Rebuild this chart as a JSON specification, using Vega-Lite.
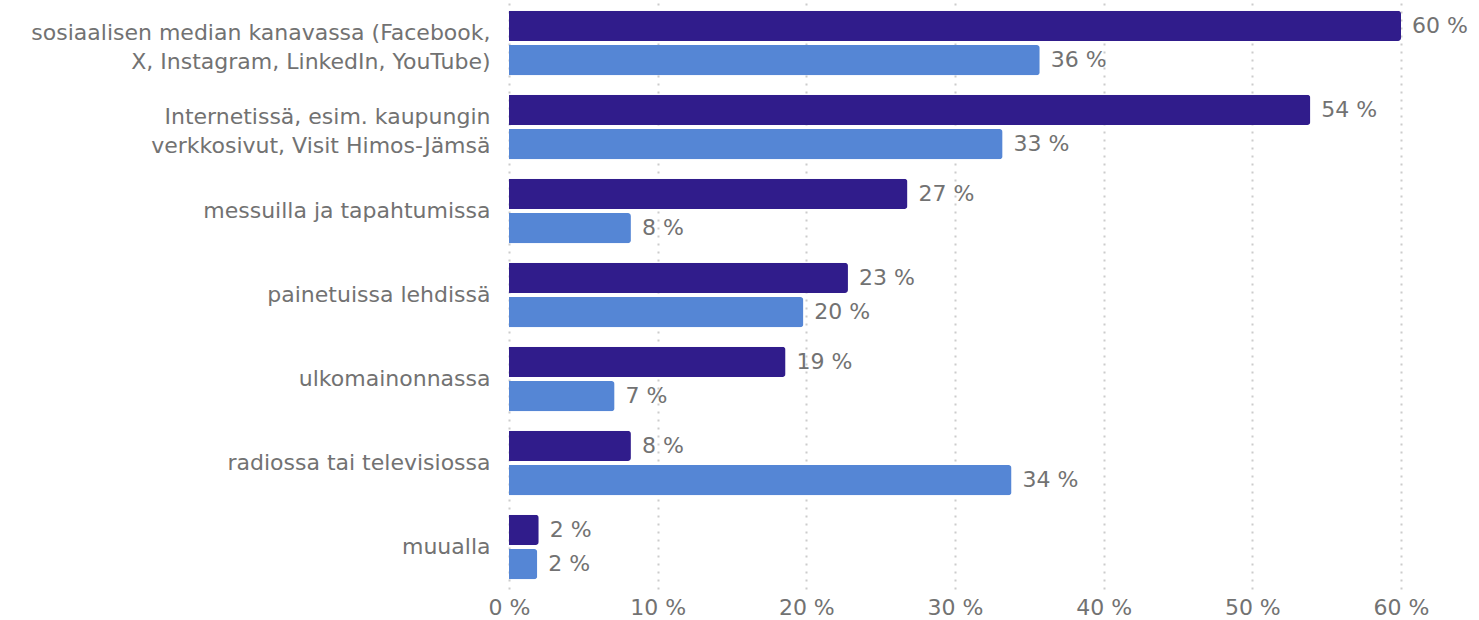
{
  "$schema": "https://vega.github.io/schema/vega-lite/v6.json",
  "autosize": {"type": "none"},
  "width": 892,
  "height": 588,
  "padding": {"left": 509, "top": 1, "right": 78, "bottom": 31},
  "config": {"view": {"stroke": null}, "font": "DejaVu Sans"},
  "data": {
    "values": [
      {"category": "sosiaalisen median kanavassa (Facebook,|X, Instagram, LinkedIn, YouTube)", "series": "A", "value": 60},
      {"category": "sosiaalisen median kanavassa (Facebook,|X, Instagram, LinkedIn, YouTube)", "series": "B", "value": 35.7},
      {"category": "Internetissä, esim. kaupungin|verkkosivut, Visit Himos-Jämsä", "series": "A", "value": 53.9},
      {"category": "Internetissä, esim. kaupungin|verkkosivut, Visit Himos-Jämsä", "series": "B", "value": 33.2},
      {"category": "messuilla ja tapahtumissa", "series": "A", "value": 26.8},
      {"category": "messuilla ja tapahtumissa", "series": "B", "value": 8.2},
      {"category": "painetuissa lehdissä", "series": "A", "value": 22.8},
      {"category": "painetuissa lehdissä", "series": "B", "value": 19.8},
      {"category": "ulkomainonnassa", "series": "A", "value": 18.6},
      {"category": "ulkomainonnassa", "series": "B", "value": 7.1},
      {"category": "radiossa tai televisiossa", "series": "A", "value": 8.2},
      {"category": "radiossa tai televisiossa", "series": "B", "value": 33.8},
      {"category": "muualla", "series": "A", "value": 2},
      {"category": "muualla", "series": "B", "value": 1.9}
    ]
  },
  "transform": [{"calculate": "format(datum.value, '.0f') + ' %'", "as": "label"}],
  "encoding": {
    "y": {
      "field": "category", "type": "nominal", "sort": null,
      "scale": {"paddingInner": 0.23, "paddingOuter": 0.115},
      "axis": {
        "title": null, "domain": false, "ticks": false, "grid": false,
        "labelExpr": "split(datum.label, '|')",
        "labelOffset": {"condition": {"test": "indexof(datum.value, '|') >= 0", "value": -10}, "value": 0},
        "labelFontSize": 22, "labelColor": "#727272", "labelPadding": 19,
        "labelLineHeight": 29, "labelLimit": 600
      }
    },
    "yOffset": {"field": "series", "type": "nominal", "sort": ["A", "B"], "scale": {"paddingInner": 0.12}},
    "x": {
      "field": "value", "type": "quantitative",
      "scale": {"domain": [0, 60], "nice": false},
      "axis": {
        "title": null, "domain": false, "ticks": false,
        "values": [0, 10, 20, 30, 40, 50, 60],
        "labelExpr": "datum.value + ' %'",
        "labelFlush": false,
        "labelFontSize": 22, "labelColor": "#727272", "labelPadding": 8,
        "grid": true, "gridColor": "#cccccc", "gridWidth": 2, "gridDash": [2, 6]
      }
    }
  },
  "layer": [
    {
      "mark": {"type": "bar", "cornerRadiusEnd": 3},
      "encoding": {
        "color": {
          "field": "series", "type": "nominal",
          "scale": {"domain": ["A", "B"], "range": ["#301c8b", "#5586d5"]},
          "legend": null
        }
      }
    },
    {
      "mark": {"type": "text", "align": "left", "baseline": "middle", "dx": 11, "fontSize": 22, "color": "#727272"},
      "encoding": {"text": {"field": "label"}}
    }
  ]
}
